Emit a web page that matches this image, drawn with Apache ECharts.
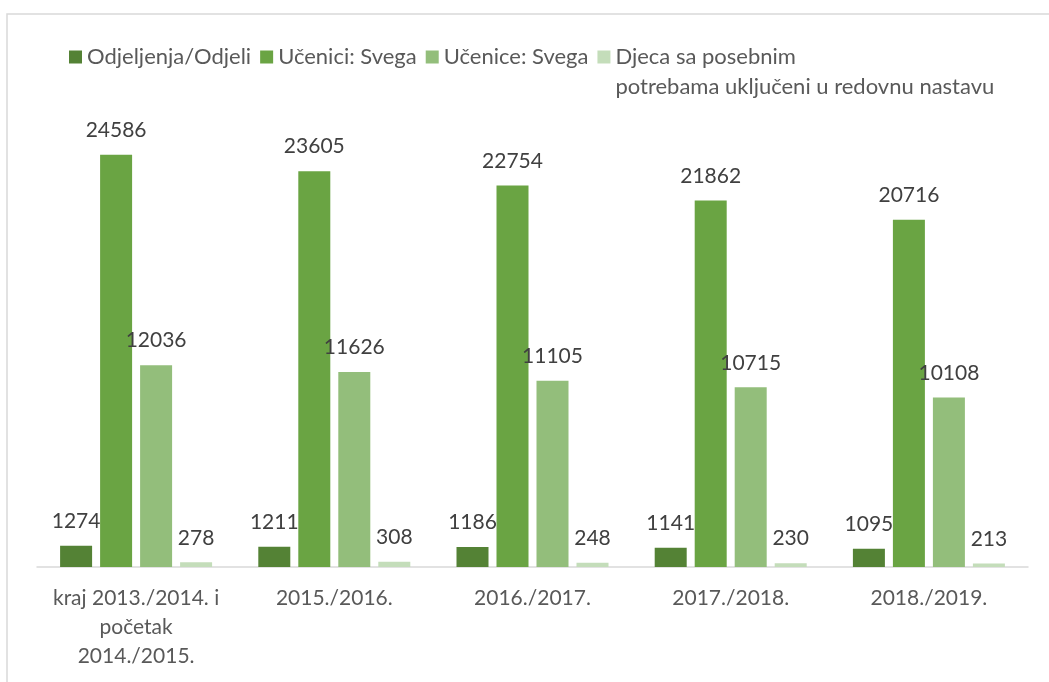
<!DOCTYPE html>
<html>
<head>
<meta charset="utf-8">
<script src="https://cdn.jsdelivr.net/npm/echarts@6/dist/echarts.min.js"></script>
<style>
  html, body { margin: 0; padding: 0; background: #fff; }
  #chart { width: 1049px; height: 682px; }
</style>
</head>
<body>
<div id="chart"></div>
<script>
// školske godine
var categories = ['kraj 2013./2014. i\npočetak\n2014./2015.', '2015./2016.', '2016./2017.', '2017./2018.', '2018./2019.'];
var seriesNames = ['Odjeljenja/Odjeli', 'Učenici: Svega', 'Učenice: Svega', 'Djeca sa posebnim\npotrebama uključeni u redovnu nastavu'];
var odjeljenja = [1274, 1211, 1186, 1141, 1095];
var ucenici = [24586, 23605, 22754, 21862, 20716];
var ucenice = [12036, 11626, 11105, 10715, 10108];
var posebne = [278, 308, 248, 230, 213];
var colors = ['#548235', '#6aa443', '#93be7b', '#c4ddba'];

var myChart = echarts.init(document.getElementById('chart'));
var font = 'Lato, "Open Sans", sans-serif';

function barSeries(idx, data) {
    return {
        name: seriesNames[idx],
        type: 'bar',
        barWidth: 32,
        barGap: '25%',
        itemStyle: { color: colors[idx] },
        label: {
            show: true,
            position: 'top',
            distance: 14,
            color: '#404040',
            fontSize: 21,
            fontFamily: font
        },
        data: data
    };
}

var option = {
    animation: false,
    textStyle: { fontFamily: font },
    graphic: [{
        type: 'rect',
        silent: true,
        shape: { x: 7, y: 14, width: 1100, height: 720 },
        style: { fill: 'none', stroke: '#d9d9d9', lineWidth: 1.5 }
    }],
    legend: {
        left: 69,
        top: 12,
        padding: 0,
        itemWidth: 13,
        itemHeight: 13,
        itemGap: 9,
        icon: 'rect',
        textStyle: { color: '#595959', fontSize: 22, lineHeight: 30, fontFamily: font },
        // prazan prvi red da ikona stoji uz prvi red teksta
        formatter: function (name) {
            return name === seriesNames[3] ? '\n' + name : name;
        },
        data: seriesNames
    },
    grid: {
        left: 37,
        right: 21,
        top: 64,
        bottom: 115,
        containLabel: false
    },
    xAxis: {
        type: 'category',
        data: categories,
        axisTick: { show: false },
        axisLine: { lineStyle: { color: '#d9d9d9', width: 1.5 } },
        axisLabel: {
            interval: 0,
            margin: 17,
            color: '#595959',
            fontSize: 21,
            lineHeight: 29,
            fontFamily: font
        }
    },
    yAxis: {
        type: 'value',
        show: false,
        min: 0,
        max: 30000,
        splitLine: { show: false }
    },
    series: [
        barSeries(0, odjeljenja),
        barSeries(1, ucenici),
        barSeries(2, ucenice),
        barSeries(3, posebne)
    ]
};

myChart.setOption(option);
</script>
</body>
</html>
